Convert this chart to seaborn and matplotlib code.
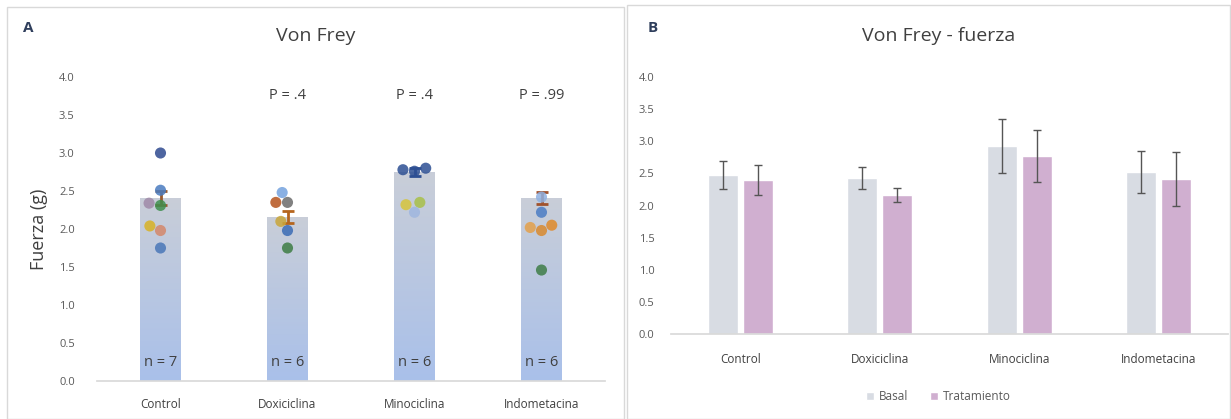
import numpy as np
import pandas as pd
import matplotlib
matplotlib.use("Agg")
import matplotlib.pyplot as plt
from matplotlib.patches import Rectangle
from matplotlib.colors import LinearSegmentedColormap
from matplotlib.container import BarContainer
import seaborn as sns

# ---------------- data ----------------
categories = ["Control", "Doxiciclina", "Minociclina", "Indometacina"]

# Panel A
means_A = [2.41, 2.16, 2.75, 2.41]
sem_A = [0.09, 0.08, 0.05, 0.08]
n_labels = ["n = 7", "n = 6", "n = 6", "n = 6"]
p_labels = ["", "P = .4", "P = .4", "P = .99"]

pts_control = [3.00, 2.51, 2.34, 2.31, 2.04, 1.98, 1.75]
pts_doxi = [2.48, 2.35, 2.35, 2.10, 1.98, 1.75]
pts_mino = [2.80, 2.78, 2.76, 2.35, 2.32, 2.22]
pts_indo = [2.42, 2.22, 2.05, 2.02, 1.98, 1.46]

# Panel B
groups = ["Basal", "Tratamiento"]
basal_B = [2.47, 2.43, 2.93, 2.52]
trat_B = [2.40, 2.16, 2.77, 2.41]
basal_err = [0.22, 0.17, 0.42, 0.33]
trat_err = [0.23, 0.11, 0.41, 0.42]

# ---------------- styles ----------------
pt_colors = {
    "Control": ["#2f4a8f", "#4a7cc0", "#a08aa8", "#3f8f4f", "#d8b225", "#d4876a", "#4a77b8"],
    "Doxiciclina": ["#74a3de", "#6b6b6b", "#b5541d", "#c9a63a", "#3a6cb5", "#3d7d44"],
    "Minociclina": ["#2d4f93", "#2d4f93", "#2d4f93", "#a8c048", "#d6c43c", "#9fb6df"],
    "Indometacina": ["#8fb0e0", "#4b7cc4", "#e08a2a", "#e3a04a", "#d9892e", "#3e7d48"],
}
err_colors_A = ["#9a5a2e", "#b5651d", "#2d4f93", "#a0522d"]
col_basal = "#d6dce5"
col_trat = "#d6a9d6"
txt_col = "#404040"
tick_col = "#595959"

sns.set_theme(style="white")
plt.rcParams["font.family"] = ["Open Sans", "DejaVu Sans"]

W, H = 1231, 419
fig = plt.figure(figsize=(W / 100, H / 100), dpi=100)

def fx(px):
    return px / W

def fy(py):
    return 1 - py / H

# panel frames
fig.patches.append(Rectangle((fx(7), fy(419)), fx(624 - 7), fy(7) - fy(419),
                             transform=fig.transFigure, fill=False,
                             edgecolor="#d9d9d9", lw=1))
fig.patches.append(Rectangle((fx(627), fy(419)), fx(1230 - 627), fy(5) - fy(419),
                             transform=fig.transFigure, fill=False,
                             edgecolor="#d9d9d9", lw=1))

# ================= Panel A =================
axA = fig.add_axes([fx(97), fy(381), fx(605 - 97), fy(77) - fy(381)])
sns.barplot(x=categories, y=means_A, color="#b8c6e3", width=0.32, ax=axA,
            errorbar=None, zorder=1)

grad = LinearSegmentedColormap.from_list("g", ["#a9c0ea", "#c9ced8"])
gimg = np.linspace(0, 1, 256).reshape(-1, 1)
for bar in list(axA.patches):
    x0, y0 = bar.get_x(), bar.get_y()
    w, h = bar.get_width(), bar.get_height()
    im = axA.imshow(gimg, cmap=grad, origin="lower", aspect="auto",
                    extent=[x0, x0 + w, y0, y0 + h], zorder=1)
    im.set_clip_path(bar)
    bar.set_facecolor("none")
    bar.set_edgecolor("none")

for i, c in enumerate(categories):
    axA.errorbar(i, means_A[i], yerr=sem_A[i], fmt="none", ecolor=err_colors_A[i],
                 elinewidth=2, capsize=4, capthick=2, zorder=3)

rows = []
all_pts = {"Control": pts_control, "Doxiciclina": pts_doxi,
           "Minociclina": pts_mino, "Indometacina": pts_indo}
for c in categories:
    for j, v in enumerate(all_pts[c]):
        rows.append({"cat": c, "val": v, "id": f"{c}_{j}"})
dfA = pd.DataFrame(rows)
palette = {f"{c}_{j}": pt_colors[c][j] for c in categories for j in range(len(all_pts[c]))}
sns.swarmplot(data=dfA, x="cat", y="val", hue="id", palette=palette, order=categories,
              size=8, alpha=0.85, legend=False, ax=axA, zorder=4)

for i in range(4):
    axA.text(i, 0.25, n_labels[i], ha="center", va="center", fontsize=10.5, color=txt_col)
    if p_labels[i]:
        axA.text(i, 3.76, p_labels[i], ha="center", va="center", fontsize=10.5, color=txt_col)

axA.set_xlim(-0.5, 3.5)
axA.set_ylim(0, 4.0)
axA.set_yticks(np.arange(0, 4.01, 0.5))
axA.set_yticklabels([f"{v:.1f}" for v in np.arange(0, 4.01, 0.5)])
axA.set_xlabel("")
axA.set_ylabel("Fuerza (g)", fontsize=13, color=txt_col, labelpad=8)
axA.tick_params(axis="y", labelsize=8, colors=tick_col, length=0, pad=16)
axA.tick_params(axis="x", labelsize=8.5, colors=txt_col, length=0, pad=12)
for s in ["top", "right", "left"]:
    axA.spines[s].set_visible(False)
axA.spines["bottom"].set_color("#d9d9d9")
axA.set_facecolor("none")
axA.set_title("Von Frey", fontsize=14, color=txt_col, pad=26, x=0.43)

fig.text(fx(28), fy(28), "A", fontsize=11, fontweight="bold", color="#2f3e5c",
         ha="center", va="center")

# ================= Panel B =================
axB = fig.add_axes([fx(671), fy(334), fx(1228 - 671), fy(77) - fy(334)])
dfB = pd.DataFrame({
    "cat": categories * 2,
    "grupo": [groups[0]] * 4 + [groups[1]] * 4,
    "val": basal_B + trat_B,
})
sns.barplot(data=dfB, x="cat", y="val", hue="grupo", order=categories, hue_order=groups,
            palette=[col_basal, col_trat], width=0.5, gap=0.14, errorbar=None, ax=axB)
errs = [basal_err, trat_err]
vals = [basal_B, trat_B]
bar_conts = [c for c in axB.containers if isinstance(c, BarContainer)]
for k, cont in enumerate(bar_conts):
    for i, bar in enumerate(cont.patches):
        xc = bar.get_x() + bar.get_width() / 2
        axB.errorbar(xc, vals[k][i], yerr=errs[k][i], fmt="none", ecolor="#555555",
                     elinewidth=1, capsize=3, capthick=1, zorder=3)

axB.set_xlim(-0.5, 3.5)
axB.set_ylim(0, 4.0)
axB.set_yticks(np.arange(0, 4.01, 0.5))
axB.set_yticklabels([f"{v:.1f}" for v in np.arange(0, 4.01, 0.5)])
axB.set_xlabel("")
axB.set_ylabel("")
axB.tick_params(axis="y", labelsize=8, colors=tick_col, length=0, pad=12)
axB.tick_params(axis="x", labelsize=8.5, colors=txt_col, length=0, pad=14)
for s in ["top", "right", "left"]:
    axB.spines[s].set_visible(False)
axB.spines["bottom"].set_color("#d9d9d9")
axB.set_title("Von Frey - fuerza", fontsize=14, color=txt_col, pad=26, x=0.48)
leg = axB.legend(loc="center", bbox_to_anchor=(0.48, -0.245), ncol=2, frameon=False,
                 fontsize=8.5, handlelength=0.7, handleheight=0.7, handletextpad=0.4,
                 columnspacing=1.8)
for t in leg.get_texts():
    t.set_color(tick_col)

fig.text(fx(653), fy(28), "B", fontsize=11, fontweight="bold", color="#2f3e5c",
         ha="center", va="center")

fig.savefig("out.png", dpi=100)
